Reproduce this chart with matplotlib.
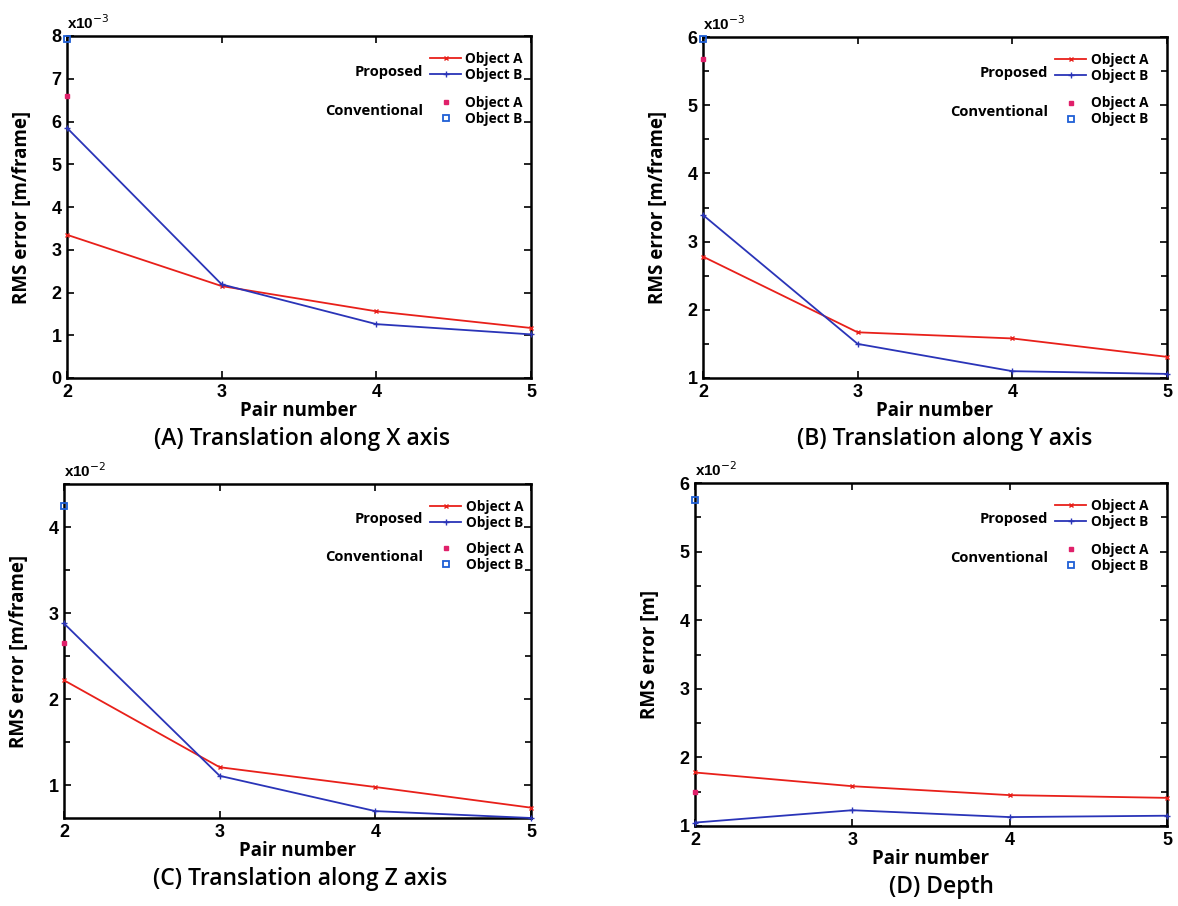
import matplotlib
matplotlib.use("Agg")
import matplotlib.pyplot as plt
from matplotlib.lines import Line2D
from matplotlib.ticker import MultipleLocator
from matplotlib.font_manager import FontProperties

pairs = [2, 3, 4, 5]

# Panel A: Translation along X axis (x10^-3)
a_prop_A = [3.35, 2.15, 1.56, 1.17]
a_prop_B = [5.85, 2.19, 1.26, 1.02]
a_conv_A = 6.6
a_conv_B = 7.92

# Panel B: Translation along Y axis (x10^-3)
b_prop_A = [2.78, 1.67, 1.58, 1.31]
b_prop_B = [3.39, 1.50, 1.10, 1.06]
b_conv_A = 5.68
b_conv_B = 5.97

# Panel C: Translation along Z axis (x10^-2)
c_prop_A = [2.22, 1.21, 0.98, 0.74]
c_prop_B = [2.88, 1.11, 0.70, 0.62]
c_conv_A = 2.65
c_conv_B = 4.25

# Panel D: Depth (x10^-2)
d_prop_A = [1.78, 1.58, 1.45, 1.41]
d_prop_B = [1.05, 1.23, 1.13, 1.15]
d_conv_A = 1.50
d_conv_B = 5.75

captions = ["(A) Translation along X axis", "(B) Translation along Y axis",
            "(C) Translation along Z axis", "(D) Depth"]
ylabels = ["RMS error [m/frame]", "RMS error [m/frame]",
           "RMS error [m/frame]", "RMS error [m]"]
exponents = ["x10$^{-3}$", "x10$^{-3}$", "x10$^{-2}$", "x10$^{-2}$"]

TICKFONT = dict(family="Liberation Sans", weight="bold", size=13)
LABFONT = dict(family="Open Sans", weight="bold", size=13.5)
LEGFONT = dict(family="Open Sans", weight="bold", size=9.8)
GRPFONT = dict(family="Open Sans", weight="bold", size=10.6)

W, H = 1178, 906
fig = plt.figure(figsize=(W / 100, H / 100), dpi=100)
fig.patch.set_facecolor("white")

# axes boxes in pixels: left, top, right, bottom
boxes = [(67, 36, 531, 378), (703, 37, 1167, 378),
         (64, 484, 531, 818), (695, 483, 1167, 826)]
leg_x = [0.782, 0.759, 0.784, 0.763]

panels = [
    (a_prop_A, a_prop_B, a_conv_A, a_conv_B, (0, 8), 1, None),
    (b_prop_A, b_prop_B, b_conv_A, b_conv_B, (1, 6), 1, 0.5),
    (c_prop_A, c_prop_B, c_conv_A, c_conv_B, (0.62, 4.5), 1, 0.5),
    (d_prop_A, d_prop_B, d_conv_A, d_conv_B, (1, 6), 1, 0.5),
]

RED = "#e8201a"
BLUE = "#2a34b8"
PINK = "#e0206a"
LBLUE = "#1f5fd6"

for i, (box, pdata) in enumerate(zip(boxes, panels)):
    l, t, r, b = box
    ax = fig.add_axes([l / W, 1 - b / H, (r - l) / W, (b - t) / H])
    pA, pB, cA, cB, ylim, major, minor = pdata
    ax.plot(pairs, pA, color=RED, lw=1.3, marker="x", ms=3.5, mew=1,
            clip_on=False, zorder=3)
    ax.plot(pairs, pB, color=BLUE, lw=1.3, marker="+", ms=4, mew=1,
            clip_on=False, zorder=3)
    ax.plot([pairs[0]], [cA], ls="none", marker="s", ms=3.5, color=PINK,
            clip_on=False, zorder=4)
    ax.plot([pairs[0]], [cB], ls="none", marker="s", ms=4.5, mfc="none",
            mec=LBLUE, mew=1.3, clip_on=False, zorder=4)
    ax.set_xlim(2, 5)
    ax.set_ylim(*ylim)
    ax.set_xticks(pairs)
    ax.yaxis.set_major_locator(MultipleLocator(major))
    if minor:
        ax.yaxis.set_minor_locator(MultipleLocator(minor))
    ax.tick_params(which="both", direction="in", top=True, right=True,
                   width=1.2, pad=4)
    ax.tick_params(which="major", length=5)
    ax.tick_params(which="minor", length=4, labelleft=False)
    fp = FontProperties(**TICKFONT)
    for lab in ax.get_xticklabels() + ax.get_yticklabels():
        lab.set_fontproperties(fp)
    for sp in ax.spines.values():
        sp.set_linewidth(1.8)
    ax.set_xlabel("Pair number", fontdict=LABFONT, labelpad=0)
    ax.set_ylabel(ylabels[i], fontdict=LABFONT, labelpad=14)
    ax.text(0.0, 1.012, exponents[i], transform=ax.transAxes, ha="left",
            va="bottom", fontfamily="Liberation Sans", fontweight="bold",
            fontsize=11)

    # legends
    h1 = [Line2D([], [], color=RED, lw=1.3, marker="x", ms=3.5),
          Line2D([], [], color=BLUE, lw=1.3, marker="+", ms=4)]
    h2 = [Line2D([], [], ls="none", marker="s", ms=3.5, color=PINK),
          Line2D([], [], ls="none", marker="s", ms=4.5, mfc="none",
                 mec=LBLUE, mew=1.3)]
    lx = leg_x[i]
    leg1 = ax.legend(h1, ["Object A", "Object B"], loc="upper left",
                     bbox_to_anchor=(lx, 0.953), frameon=False,
                     prop=LEGFONT, handlelength=2.3, handletextpad=0.3,
                     labelspacing=0.15, borderaxespad=0, borderpad=0)
    ax.add_artist(leg1)
    ax.legend(h2, ["Object A", "Object B"], loc="upper left",
              bbox_to_anchor=(lx, 0.826), frameon=False, prop=LEGFONT,
              handlelength=2.3, handletextpad=0.3, labelspacing=0.15,
              borderaxespad=0, borderpad=0)
    ax.text(lx - 0.015, 0.895, "Proposed", transform=ax.transAxes,
            ha="right", va="center", **GRPFONT)
    ax.text(lx - 0.015, 0.78, "Conventional", transform=ax.transAxes,
            ha="right", va="center", **GRPFONT)

    # caption
    cx = (l + r) / 2 + 3 if i % 2 == 0 else (l + r) / 2 + 10
    cy = b + 61
    fig.text(cx / W, 1 - cy / H, captions[i], ha="center", va="center",
             fontfamily="Open Sans", fontweight="semibold", fontsize=16.5)

fig.savefig("out.png", dpi=100, facecolor="white")
